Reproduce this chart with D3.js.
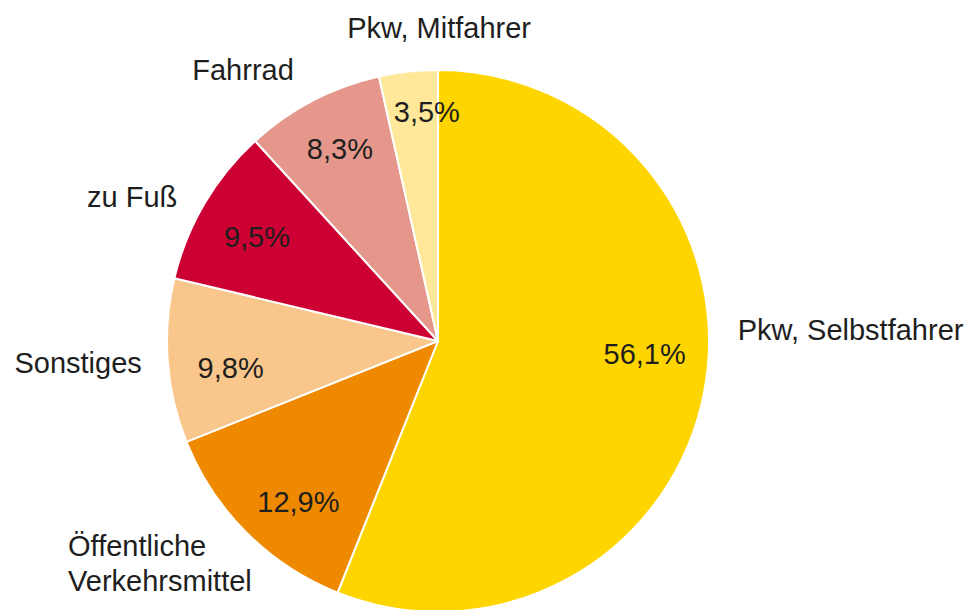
<!DOCTYPE html>
<html lang="de">
<head>
    <meta charset="UTF-8">
    <title>Verkehrsmittelwahl</title>
    <script src="https://cdnjs.cloudflare.com/ajax/libs/d3/7.8.5/d3.min.js"></script>
    <style>
        body { margin: 0; background: #fff; }
        svg text { font-family: 'Liberation Sans', Arial, sans-serif; fill: #1e1e1e; }
    </style>
</head>
<body>
    <div id="chart"></div>

    <script>
        // data, clockwise from 12 o'clock
        const categories = ["Pkw, Selbstfahrer", "Öffentliche\nVerkehrsmittel", "Sonstiges", "zu Fuß", "Fahrrad", "Pkw, Mitfahrer"];
        const shares = [56.1, 12.9, 9.8, 9.5, 8.3, 3.5];
        const shareLabels = ["56,1%", "12,9%", "9,8%", "9,5%", "8,3%", "3,5%"];
        const colors = ["#FFD500", "#EF8A00", "#F9C68B", "#CC0033", "#E5978B", "#FFE89A"];

        // label placement tweaks (degrees off the slice middle / radius)
        const innerNudge = [-7.5, -4, -3, -0.5, 0.5, 3.5];
        const innerRadius = [207, 213, 209, 209, 216, 230];
        const outerNudge = [-13, -5, 0, -1.5, -0.5, 6.5];
        const outerRadius = [300, 290, 297, 298, 307, 313];

        const width = 974, height = 610;
        const cx = 438, cy = 341, R = 271;
        const fontSize = 29;

        const svg = d3.select("#chart").append("svg")
            .attr("width", width)
            .attr("height", height);

        const g = svg.append("g").attr("transform", `translate(${cx},${cy})`);

        const pie = d3.pie().sort(null).value(d => d);
        const arcs = pie(shares);
        const arc = d3.arc().innerRadius(0).outerRadius(R);

        g.selectAll("path.slice")
            .data(arcs)
            .join("path")
            .attr("class", "slice")
            .attr("d", arc)
            .attr("fill", (d, i) => colors[i])
            .attr("stroke", "#fff")
            .attr("stroke-width", 2)
            .attr("stroke-linejoin", "round");

        const rad = deg => deg * Math.PI / 180;
        const polar = (a, r) => [r * Math.sin(a), -r * Math.cos(a)];
        const midAngle = d => (d.startAngle + d.endAngle) / 2;

        // percentages inside slices
        g.selectAll("text.pct")
            .data(arcs)
            .join("text")
            .attr("class", "pct")
            .attr("text-anchor", "middle")
            .attr("font-size", fontSize)
            .attr("dy", "0.36em")
            .attr("x", (d, i) => polar(midAngle(d) + rad(innerNudge[i]), innerRadius[i])[0])
            .attr("y", (d, i) => polar(midAngle(d) + rad(innerNudge[i]), innerRadius[i])[1])
            .text((d, i) => shareLabels[i]);

        // category names outside
        const outer = g.selectAll("text.cat")
            .data(arcs)
            .join("text")
            .attr("class", "cat")
            .attr("font-size", fontSize)
            .each(function(d, i) {
                const a = midAngle(d) + rad(outerNudge[i]);
                const [x, y] = polar(a, outerRadius[i]);
                const s = Math.sin(a);
                const anchor = s > 0.17 ? "end" : s < -0.17 ? "start" : "middle";
                const lines = categories[i].split("\n");
                const t = d3.select(this);
                if (lines.length === 1) {
                    t.attr("x", x).attr("y", y).attr("dy", "0.36em")
                        .attr("text-anchor", s > 0.17 ? "start" : s < -0.17 ? "end" : "middle")
                        .text(lines[0]);
                } else {
                    // multi-line block: left aligned, right edge on the anchor point
                    const lh = 35;
                    t.attr("text-anchor", "start");
                    lines.forEach((ln, k) => {
                        t.append("tspan")
                            .attr("y", y + (k - (lines.length - 1) / 2) * lh)
                            .attr("dy", "0.36em")
                            .text(ln);
                    });
                    const w = d3.max(t.selectAll("tspan").nodes(), n => n.getComputedTextLength());
                    t.selectAll("tspan").attr("x", x - w);
                }
            });
    </script>
</body>
</html>
